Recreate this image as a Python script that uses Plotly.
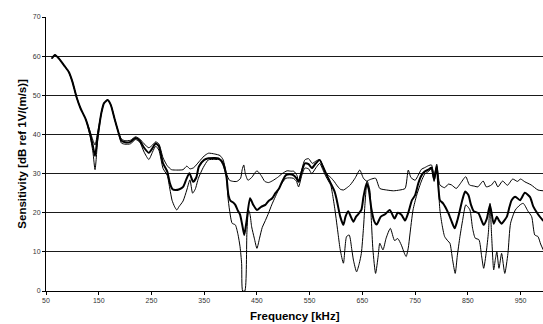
import plotly.graph_objects as go

# ---------------- data ----------------
freq_upper = [61, 67, 75, 85, 93, 100, 108, 116, 125, 133, 139, 143, 148, 155, 160, 167, 173, 180, 187, 193,
              200, 210, 220, 228, 236, 245, 252, 258, 264, 272, 280, 288, 298, 310, 317, 323, 330, 340, 350, 358,
              370, 380, 386, 392, 398, 405, 412, 419, 422, 425, 428, 433, 440, 450, 458, 465, 472, 480, 489, 498,
              507, 515, 520, 526, 529, 534, 541, 548, 555, 562, 569, 575, 581, 590, 597, 601, 608, 614, 620, 627,
              636, 645, 652, 658, 665, 675, 683, 696, 709, 721, 731, 737, 742, 750, 756, 762, 768, 775, 781, 786,
              791, 797, 806, 813, 819, 828, 835, 846, 853, 862, 869, 879, 885, 895, 901, 907, 916, 925, 935, 944,
              950, 958, 970, 983, 993]
sens_upper = [59.4, 60.3, 59.3, 57.5, 56.0, 53.5, 49.5, 46.5, 44.0, 41.0, 38.5, 37.3, 40.5, 45.5, 48.0, 48.8, 47.5, 44.0, 40.7, 38.8,
              38.4, 38.5, 39.4, 38.8, 37.6, 36.6, 37.3, 38.1, 37.6, 34.0, 32.0, 31.0, 30.9, 31.0, 31.9, 31.2, 31.5, 33.0, 34.5, 35.2,
              35.0, 34.6, 33.5, 30.0, 28.3, 28.0, 28.0, 28.8, 31.0, 32.2, 30.0, 28.3, 29.0, 30.7, 29.5, 28.0, 27.7, 28.2, 29.0, 30.0,
              30.7, 30.6, 30.6, 29.5, 27.9, 30.5, 33.5, 33.8, 32.6, 33.2, 33.6, 32.0, 30.1, 29.0, 27.9, 27.1, 26.0, 25.8, 26.3, 27.1,
              28.8, 30.9, 28.8, 28.1, 28.5, 28.8, 26.2, 25.8, 25.6, 25.8, 26.2, 30.9, 29.0, 28.3, 29.6, 31.1, 31.5, 32.0, 32.2, 29.5,
              32.4, 27.1, 26.4, 27.3, 27.1, 26.2, 27.3, 29.2, 27.1, 26.8, 26.6, 28.1, 26.6, 27.1, 28.1, 26.6, 28.1, 27.0, 28.6, 28.0,
              28.6, 27.9, 27.1, 25.8, 25.6]

freq_mid = [61, 67, 75, 85, 93, 100, 108, 116, 125, 133, 139, 143, 148, 155, 160, 167, 173, 180, 187, 193,
            200, 210, 220, 228, 236, 245, 252, 258, 264, 272, 280, 285, 290, 295, 303, 310, 316, 322, 329, 335,
            340, 350, 358, 370, 377, 386, 392, 396, 400, 405, 409, 414, 418, 422, 426, 430, 437, 443, 450, 458,
            466, 472, 479, 485, 492, 498, 505, 512, 519, 525, 529, 535, 541, 548, 554, 561, 569, 575, 581, 590,
            597, 601, 608, 614, 618, 623, 628, 633, 638, 642, 648, 652, 658, 662, 667, 672, 677, 685, 693, 702,
            711, 717, 724, 731, 737, 744, 750, 756, 762, 768, 775, 781, 786, 791, 797, 803, 813, 820, 825, 830,
            835, 840, 845, 851, 856, 861, 870, 876, 880, 886, 892, 899, 905, 909, 914, 919, 924, 929, 933, 940,
            949, 958, 968, 974, 983, 993]
sens_mid = [59.4, 60.3, 59.3, 57.5, 56.0, 53.5, 49.5, 46.5, 44.0, 40.5, 37.0, 34.5, 39.5, 45.5, 48.0, 48.8, 47.5, 44.0, 40.7, 38.4,
            38.0, 38.1, 39.1, 38.4, 36.6, 35.3, 36.5, 37.7, 37.0, 32.6, 30.5, 27.5, 26.0, 25.8, 26.0, 26.6, 28.5, 30.1, 27.9, 29.0,
            31.8, 33.5, 33.9, 34.0, 33.9, 32.6, 29.5, 24.5, 23.0, 22.6, 22.0, 20.5, 19.5, 17.0, 14.3, 17.5, 23.7, 22.0, 20.7, 21.5,
            22.0, 23.0, 23.7, 25.0, 26.2, 28.0, 29.6, 29.8, 29.6, 28.8, 27.9, 30.5, 32.6, 32.4, 31.4, 32.5, 33.5, 31.8, 30.0, 27.5,
            25.5, 23.5, 19.0, 16.9, 19.0, 20.4, 19.0, 17.7, 19.0, 19.6, 20.7, 24.0, 27.5, 26.0, 21.0, 18.0, 17.0, 19.0, 19.6, 20.7,
            18.5, 20.0, 19.5, 18.0, 20.0, 23.2, 24.5, 27.5, 29.5, 30.5, 31.0, 31.5, 28.5, 31.8, 23.2, 22.4, 19.9, 17.5, 16.0, 18.0,
            20.7, 23.5, 25.4, 24.5, 22.0, 20.4, 19.9, 18.0, 16.9, 18.5, 22.0, 17.2, 19.0, 18.0, 17.2, 18.0, 19.0, 21.5, 23.2, 24.1,
            23.2, 25.1, 24.0, 21.6, 19.6, 17.9]

freq_lower = [61, 67, 75, 85, 93, 100, 108, 116, 125, 133, 139, 143, 148, 155, 160, 167, 173, 180, 187, 193,
              200, 210, 220, 228, 236, 245, 252, 258, 264, 272, 280, 285, 289, 294, 298, 302, 310, 317, 323, 328,
              333, 339, 348, 358, 370, 380, 386, 392, 395, 398, 403, 409, 414, 418, 421, 423, 427, 431, 434, 437,
              440, 445, 450, 455, 460, 466, 472, 478, 485, 495, 505, 519, 525, 529, 535, 541, 548, 554, 562, 569,
              575, 581, 590, 593, 598, 604, 608, 614, 620, 625, 630, 633, 639, 644, 648, 652, 655, 659, 664, 667,
              670, 675, 680, 683, 689, 695, 703, 711, 717, 724, 730, 733, 737, 740, 746, 753, 762, 768, 775, 781,
              786, 791, 797, 801, 806, 812, 816, 821, 826, 830, 835, 840, 846, 850, 854, 859, 864, 871, 876, 880,
              885, 889, 892, 895, 899, 902, 905, 909, 914, 920, 926, 931, 940, 949, 955, 964, 971, 977, 983, 988,
              993]
sens_lower = [59.4, 60.3, 59.3, 57.5, 56.0, 53.5, 49.5, 46.5, 44.0, 40.0, 35.5, 31.0, 38.5, 45.5, 48.0, 48.8, 47.5, 44.0, 40.7, 37.8,
              37.5, 37.6, 38.7, 38.0, 35.5, 33.6, 35.5, 37.0, 36.0, 31.3, 29.5, 26.0, 23.2, 21.5, 20.7, 21.5, 23.0, 25.8, 28.4, 25.0,
              26.0, 28.8, 31.5, 33.5, 33.6, 33.5, 32.0, 29.2, 24.0, 20.7, 17.3, 16.9, 14.5, 11.3, 7.0, 0.0, 0.0, 15.0, 20.7, 19.5,
              16.4, 13.5, 10.9, 13.5, 16.2, 18.0, 19.9, 22.0, 24.1, 27.0, 28.8, 28.8, 28.0, 26.6, 29.5, 31.4, 31.2, 30.0, 31.5, 32.6,
              31.0, 29.2, 27.0, 25.0, 20.7, 14.5, 10.5, 7.1, 13.9, 14.3, 10.5, 7.9, 4.9, 7.0, 9.6, 16.0, 22.4, 28.1, 25.8, 18.0,
              10.5, 4.5, 9.0, 12.2, 10.5, 13.5, 16.0, 12.9, 13.4, 11.7, 9.5, 8.8, 11.0, 14.3, 20.7, 24.5, 28.1, 29.8, 30.5, 31.2,
              28.0, 31.5, 20.7, 17.0, 13.9, 12.8, 12.2, 8.0, 4.5, 9.0, 13.9, 18.0, 22.0, 21.5, 20.7, 16.0, 13.5, 13.1, 9.0, 5.8,
              10.0, 15.0, 22.4, 14.3, 5.4, 8.0, 10.0, 5.8, 9.6, 4.5, 9.6, 17.3, 20.7, 22.0, 22.4, 20.4, 19.0, 14.3, 13.9, 12.0,
              10.5]

x_ticks = [50, 150, 250, 350, 450, 550, 650, 750, 850, 950]
y_ticks = [0, 10, 20, 30, 40, 50, 60, 70]
x_title = "Frequency [kHz]"
y_title = "Sensitivity [dB ref 1V/(m/s)]"

# ---------------- figure ----------------
fig = go.Figure()
for fx, fy, w in [(freq_upper, sens_upper, 1.0), (freq_lower, sens_lower, 1.0), (freq_mid, sens_mid, 2.0)]:
    fig.add_trace(go.Scatter(x=fx, y=fy, mode="lines",
                             line=dict(color="black", width=w, shape="spline", smoothing=0.6),
                             showlegend=False, hoverinfo="skip"))

FONT = "Liberation Sans, Arial, sans-serif"
fig.update_layout(
    width=543, height=324,
    margin=dict(l=46, r=0, t=17, b=33, autoexpand=False),
    paper_bgcolor="white", plot_bgcolor="white",
    font=dict(family=FONT, size=7, color="#333333"),
    xaxis=dict(range=[50, 992.5], tickmode="array", tickvals=x_ticks, ticktext=[str(v) for v in x_ticks],
               showgrid=False, zeroline=False, showline=True, linecolor="black", linewidth=1,
               ticks="outside", ticklen=3, tickcolor="black", tickfont=dict(size=7, color="#333333")),
    yaxis=dict(range=[0, 70], tickmode="array", tickvals=y_ticks, ticktext=[str(v) for v in y_ticks],
               showgrid=True, gridcolor="#1a1a1a", gridwidth=1, zeroline=False,
               showline=True, linecolor="black", linewidth=1,
               ticks="outside", ticklen=3, tickcolor="black", tickfont=dict(size=7, color="#333333")),
    annotations=[
        dict(text="<b>" + x_title + "</b>", xref="paper", yref="paper", x=0.5, y=-0.1204,
             xanchor="center", yanchor="bottom", showarrow=False,
             font=dict(family=FONT, size=11.5, color="black")),
        dict(text="<b>" + y_title + "</b>", xref="paper", yref="paper", x=-0.049, y=0.5,
             xanchor="center", yanchor="middle", textangle=-90, showarrow=False,
             font=dict(family=FONT, size=11.5, color="black")),
    ],
)
fig.write_html("out.html", config={"displayModeBar": False},
               post_script="document.body.style.margin='0';document.body.style.overflow='hidden';")
